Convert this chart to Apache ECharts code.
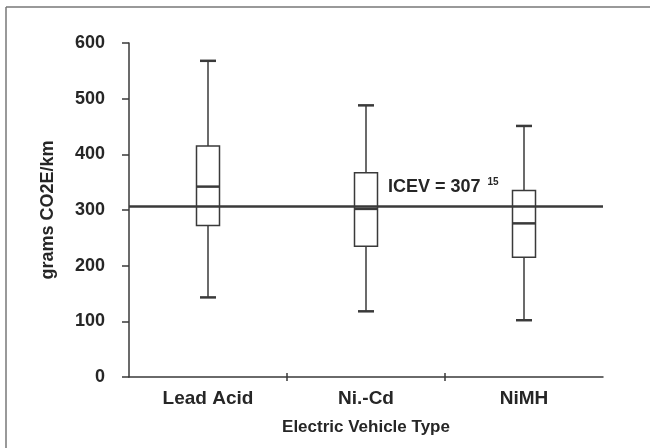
<!DOCTYPE html>
<html>
<head>
<meta charset="utf-8">
<script src="https://cdn.jsdelivr.net/npm/echarts@6/dist/echarts.min.js"></script>
<style>
  html, body { margin: 0; padding: 0; background: #fff; }
  #chart { width: 650px; height: 448px; }
</style>
</head>
<body>
<div id="chart"></div>
<script>
// 数据
const types = ['Lead Acid', 'Ni.-Cd', 'NiMH'];
const whiskerLow = [143, 118, 102];
const q1 = [272, 235, 215];
const median = [342, 302, 276];
const q3 = [415, 367, 335];
const whiskerHigh = [568, 488, 451];
const icev = 307;
const yTicks = [0, 100, 200, 300, 400, 500, 600];
const dividers = [1, 2]; // 类别之间的刻度

const ink = '#3a3a3a';
const txt = '#262626';
const font = '"Liberation Sans", Arial, sans-serif';

const chart = echarts.init(document.getElementById('chart'));

const boxData = types.map((t, i) => [i, whiskerLow[i], q1[i], median[i], q3[i], whiskerHigh[i]]);

// 箱线图自己画，须线端短一点
function renderBox(params, api) {
    const x = api.value(0);
    const pLow = api.coord([x, api.value(1)]);
    const pQ1 = api.coord([x, api.value(2)]);
    const pMed = api.coord([x, api.value(3)]);
    const pQ3 = api.coord([x, api.value(4)]);
    const pHigh = api.coord([x, api.value(5)]);
    const cx = pLow[0];
    const bw = 23;
    const cw = 16;
    const thin = { stroke: ink, lineWidth: 1.5 };
    const thick = { stroke: ink, lineWidth: 2.5 };
    return {
        type: 'group',
        children: [
            { type: 'line', shape: { x1: cx, y1: pHigh[1], x2: cx, y2: pQ3[1] }, style: thin },
            { type: 'line', shape: { x1: cx, y1: pQ1[1], x2: cx, y2: pLow[1] }, style: thin },
            { type: 'line', shape: { x1: cx - cw / 2, y1: pHigh[1], x2: cx + cw / 2, y2: pHigh[1] }, style: thick },
            { type: 'line', shape: { x1: cx - cw / 2, y1: pLow[1], x2: cx + cw / 2, y2: pLow[1] }, style: thick },
            { type: 'rect', shape: { x: cx - bw / 2, y: pQ3[1], width: bw, height: pQ1[1] - pQ3[1] },
              style: { fill: '#fff', stroke: ink, lineWidth: 1.5 } },
            { type: 'line', shape: { x1: cx - bw / 2, y1: pMed[1], x2: cx + bw / 2, y2: pMed[1] }, style: thick }
        ]
    };
}

// 分隔刻度：上下各一截，穿过坐标轴
function tickAxis(inside) {
    return {
        type: 'value',
        position: 'bottom',
        min: 0,
        max: types.length,
        axisLine: { show: false },
        axisLabel: { show: false },
        splitLine: { show: false },
        axisTick: { show: true, inside: inside, length: 4, customValues: dividers, lineStyle: { color: ink, width: 1.5 } }
    };
}

const frame = [
    { type: 'line', shape: { x1: 6, y1: 7, x2: 650, y2: 7 }, style: { stroke: '#777', lineWidth: 1.5 } },
    { type: 'line', shape: { x1: 6, y1: 7, x2: 6, y2: 448 }, style: { stroke: '#777', lineWidth: 1.5 } }
];

const option = {
    backgroundColor: '#fff',
    animation: false,
    grid: { left: 129, right: 47, top: 43, bottom: 71 },
    xAxis: [{
        type: 'category',
        data: types,
        boundaryGap: true,
        name: 'Electric Vehicle Type',
        nameLocation: 'middle',
        nameGap: 42,
        nameTextStyle: { color: txt, fontSize: 17, fontWeight: 'bold', fontFamily: font },
        axisLine: { lineStyle: { color: ink, width: 1.5 } },
        axisTick: { show: false },
        axisLabel: { color: txt, fontSize: 19, fontWeight: 'bold', fontFamily: font, margin: 12 },
        splitLine: { show: false }
    }, tickAxis(false), tickAxis(true)],
    yAxis: {
        type: 'value',
        min: 0,
        max: 600,
        interval: 100,
        name: 'grams CO2E/km',
        nameLocation: 'middle',
        nameGap: 72,
        nameTextStyle: { color: txt, fontSize: 18, fontWeight: 'bold', fontFamily: font },
        axisLine: { show: true, lineStyle: { color: ink, width: 1.5 } },
        axisTick: { show: true, length: 7, lineStyle: { color: ink, width: 1.5 } },
        axisLabel: {
            color: txt, fontSize: 18, fontWeight: 'bold', fontFamily: font, margin: 24,
            formatter: v => yTicks.includes(v) ? String(v) : ''
        },
        splitLine: { show: false }
    },
    series: [{
        type: 'custom',
        renderItem: renderBox,
        data: boxData,
        xAxisIndex: 0,
        encode: { x: 0, y: [1, 2, 3, 4, 5] },
        z: 2,
        markLine: {
            silent: true,
            symbol: 'none',
            z: 5,
            lineStyle: { color: ink, width: 2.5, type: 'solid' },
            label: { show: false },
            data: [{ yAxis: icev }]
        }
    }],
    graphic: frame
};

chart.setOption(option);

// ICEV 标注，位置跟着坐标轴走
const p = chart.convertToPixel({ seriesIndex: 0 }, [1, icev]);
chart.setOption({
    graphic: frame.concat([{
        type: 'text',
        x: p[0] + 22,
        y: p[1] - 29,
        z: 10,
        style: {
            text: '{a|ICEV = 307}{b|15}',
            rich: {
                a: { fontSize: 18, fontWeight: 'bold', fontFamily: font, fill: txt, verticalAlign: 'bottom' },
                b: { fontSize: 10, fontWeight: 'bold', fontFamily: font, fill: txt, verticalAlign: 'top', padding: [0, 0, 9, 7] }
            }
        }
    }])
});
</script>
</body>
</html>
